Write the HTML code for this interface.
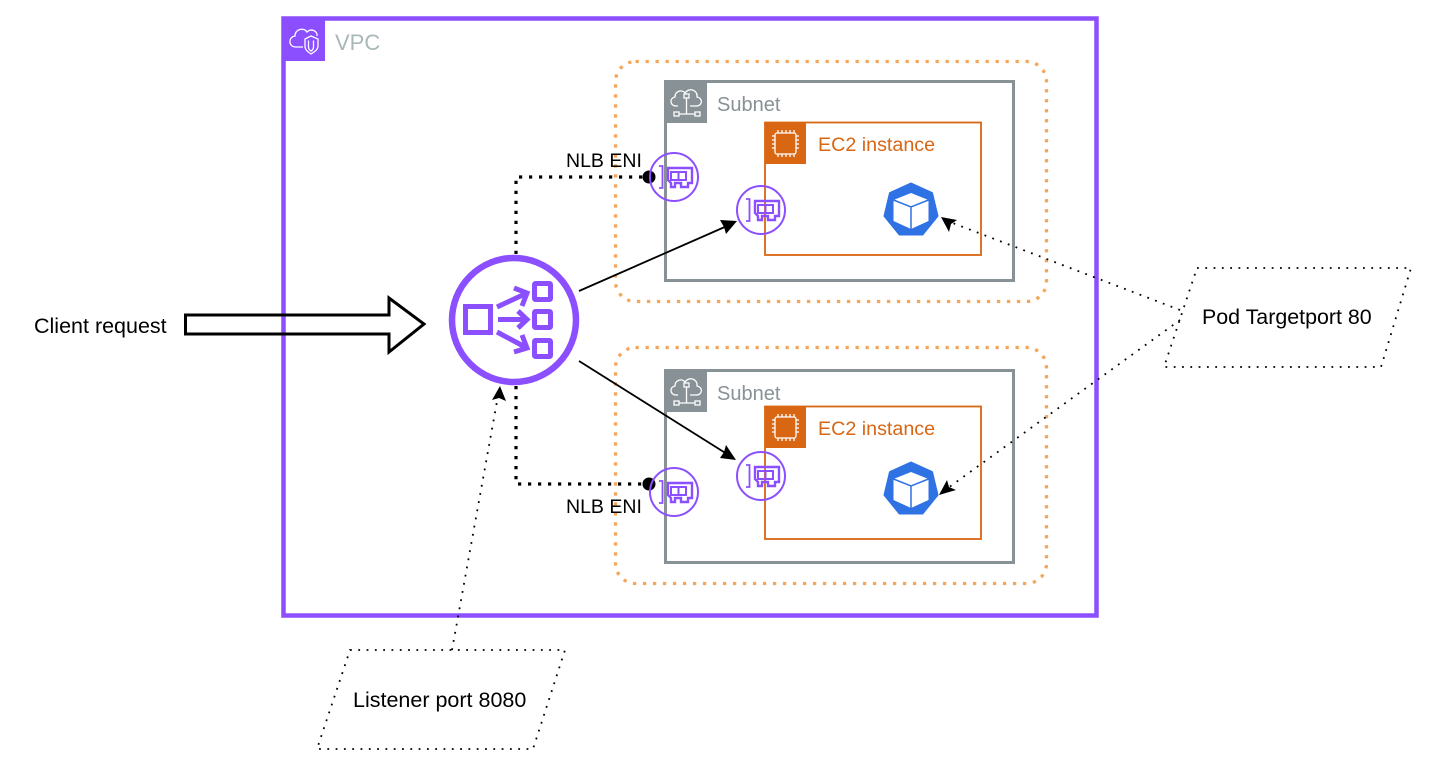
<!DOCTYPE html>
<html><head><meta charset="utf-8"><style>
html,body{margin:0;padding:0;background:#fff;width:1430px;height:767px;overflow:hidden}
svg{display:block}
text{font-family:"Liberation Sans",sans-serif}
</style></head><body>
<svg width="1430" height="767" viewBox="0 0 1430 767" xmlns="http://www.w3.org/2000/svg">
<defs>
<g id="eni" fill="none" stroke="#8c4fff">
<circle cx="0" cy="0" r="24" stroke-width="2"/>
<path d="M-15,-11h3.500v22h-3.500" stroke-width="1.800"/>
<path d="M-6,-9H18V6H14V10H7V6H1V10H-3V6L-6,3Z" stroke-width="2.400"/>
<path d="M-3,-5H12V3H-3ZM4.500,-5V3" stroke-width="2"/>
</g>
<g id="k8s">
<path d="M0,-26.500 L21,-17 L26.500,6 L11.500,24.500 L-11.500,24.500 L-26.500,6 L-21,-17Z" fill="#2f72e4" stroke="#2f72e4" stroke-width="2" stroke-linejoin="round"/>
<path d="M0,-17 L17.500,-10 V11 L0,19 L-17.500,11 V-10Z" fill="#fff"/>
<path d="M-17.500,-10 L0,-3 L17.500,-10 M0,-3 V19" fill="none" stroke="#2f72e4" stroke-width="1.500"/>
</g>
<g id="subnetIcon" fill="none" stroke="#fff" stroke-width="1.300">
<path d="M13,25 H11 C5,25 4,17 10,16 C10,10 17,8 20,12 C24,6 33,9 32,16 C38,17 38,25 31,25 H25"/>
<rect x="19" y="13" width="5" height="4"/>
<path d="M21.500,17 V33 M14,33 H30"/>
<rect x="9" y="31" width="5" height="4"/><rect x="30" y="31" width="5" height="4"/>
</g>
<g id="ec2Icon" fill="none" stroke="#fff" stroke-width="1.300">
<rect x="10" y="11" width="21" height="21" rx="2"/>
<path d="M13,8v3M17,8v3M21,8v3M25,8v3M29,8v3M13,32v3M17,32v3M21,32v3M25,32v3M29,32v3M7,14h3M7,18h3M7,22h3M7,26h3M31,14h3M31,18h3M31,22h3M31,26h3"/>
</g>
</defs>

<!-- VPC -->
<rect x="283.500" y="18.500" width="813" height="597" fill="#fff" stroke="#8c4fff" stroke-width="4.500"/>
<rect x="283" y="18" width="42" height="43" fill="#8c4fff"/>
<g fill="none" stroke="#fff" stroke-width="1.300">
<path d="M303,47 H296 C288,47 288,37 295,36 C295,29 304,27 307,32 C311,28 318,31 317,36"/>
<path d="M305,39 L311,36 L318,39 V46 C318,50 314,52 311,54 C308,52 305,50 305,46Z"/>
<path d="M308.500,40.500 V47 C308.500,49 310,50.500 311,51 C312,50.500 313.500,49 313.500,47 V40.500"/>
</g>
<text x="335" y="50" font-size="22" fill="#aab7b8">VPC</text>

<!-- dotted AZ -->
<rect x="615.500" y="61.500" width="431" height="240" rx="20" fill="none" stroke="#f5a65b" stroke-width="3.300" stroke-dasharray="3.300 6.700"/>
<rect x="615.500" y="347.500" width="431" height="236" rx="20" fill="none" stroke="#f5a65b" stroke-width="3.300" stroke-dasharray="3.300 6.700"/>

<!-- Subnets -->
<rect x="665.500" y="81.500" width="348" height="199" fill="#fff" stroke="#879196" stroke-width="3"/>
<rect x="665" y="81" width="42" height="42" fill="#879196"/>
<use href="#subnetIcon" x="665" y="81"/>
<text x="717" y="111" font-size="20" fill="#879196">Subnet</text>

<rect x="665.500" y="370.500" width="348" height="192" fill="#fff" stroke="#879196" stroke-width="3"/>
<rect x="665" y="370" width="42" height="42" fill="#879196"/>
<use href="#subnetIcon" x="665" y="370"/>
<text x="717" y="400" font-size="20" fill="#879196">Subnet</text>

<!-- EC2 -->
<rect x="765" y="122.500" width="216" height="132.500" fill="#fff" stroke="#d86613" stroke-width="1.800"/>
<rect x="765" y="122" width="41" height="42" fill="#d86613"/>
<use href="#ec2Icon" x="765" y="122"/>
<text x="818" y="151" font-size="19.700" fill="#d86613">EC2 instance</text>

<rect x="765" y="406.500" width="216" height="132.500" fill="#fff" stroke="#d86613" stroke-width="1.800"/>
<rect x="765" y="406" width="41" height="42" fill="#d86613"/>
<use href="#ec2Icon" x="765" y="406"/>
<text x="818" y="435" font-size="19.700" fill="#d86613">EC2 instance</text>

<!-- K8s -->
<use href="#k8s" x="911" y="210"/>
<use href="#k8s" x="911" y="489"/>

<!-- Thick dotted connectors -->
<path d="M516,254 V177 H649" fill="none" stroke="#000" stroke-width="3.200" stroke-dasharray="3.200 6.800"/>
<path d="M516,386 V484 H649" fill="none" stroke="#000" stroke-width="3.200" stroke-dasharray="3.200 6.800"/>
<circle cx="649" cy="177" r="6.500" fill="#000"/>
<circle cx="649" cy="484" r="6.500" fill="#000"/>

<!-- ENI -->
<use href="#eni" x="674" y="177"/>
<use href="#eni" x="761" y="210"/>
<use href="#eni" x="761" y="476"/>
<use href="#eni" x="674" y="492"/>

<text x="566" y="167" font-size="19.500" fill="#000">NLB ENI</text>
<text x="566" y="513" font-size="19.500" fill="#000">NLB ENI</text>

<!-- Client arrow -->
<path d="M185.500,315 H389 V298 L424,324 L389,352 V334 H185.500Z" fill="none" stroke="#000" stroke-width="3"/>
<text x="34" y="333" font-size="21.500" fill="#000">Client request</text>

<!-- NLB -->
<circle cx="514" cy="320" r="62" fill="#fff" stroke="#8c4fff" stroke-width="6.500"/>
<g fill="none" stroke="#8c4fff" stroke-width="5">
<rect x="465.500" y="306.500" width="25" height="26"/>
<rect x="534.500" y="283.500" width="16" height="16" rx="1"/>
<rect x="534.500" y="311.500" width="16" height="16" rx="1"/>
<rect x="534.500" y="340.500" width="16" height="16" rx="1"/>
<path d="M497,307 L527,293 M514,288 L527,293 L522,306"/>
<path d="M498,319.500 H527 M518,311 L527,319.500 L518,328"/>
<path d="M497,332 L527,348 M522,335 L527,348 L514,352"/>
</g>

<!-- Solid arrows -->
<line x1="579" y1="291" x2="727" y2="226" stroke="#000" stroke-width="1.800"/>
<path d="M737,221 L720,220 L724,227 L726,234Z" fill="#000"/>
<line x1="579" y1="361" x2="727" y2="454" stroke="#000" stroke-width="1.800"/>
<path d="M736,460 L726,445 L724,452 L720,458Z" fill="#000"/>

<!-- Thin dotted arrows -->
<g fill="none" stroke="#000" stroke-width="1.800" stroke-dasharray="1.800 6.500">
<path d="M1180,310 L950,222"/>
<path d="M1180,320 L948,488"/>
<path d="M452,650 L498,396"/>
</g>
<path d="M941,217 L957,220 L951,224 L949,232Z" fill="#000"/>
<path d="M939,495 L947,480 L949,487 L956,490Z" fill="#000"/>
<path d="M500,386 L506,401 L499,398 L492,400Z" fill="#000"/>

<!-- Parallelograms -->
<g fill="none" stroke="#000" stroke-width="1.800" stroke-dasharray="1.800 6.500">
<path d="M1197,268 H1411 L1381,367 H1164Z"/>
<path d="M350,650 H565 L533,749 H317Z"/>
</g>
<text x="1202" y="324" font-size="21.400" fill="#000">Pod Targetport 80</text>
<text x="353" y="707" font-size="21.500" fill="#000">Listener port 8080</text>
</svg>
</body></html>
